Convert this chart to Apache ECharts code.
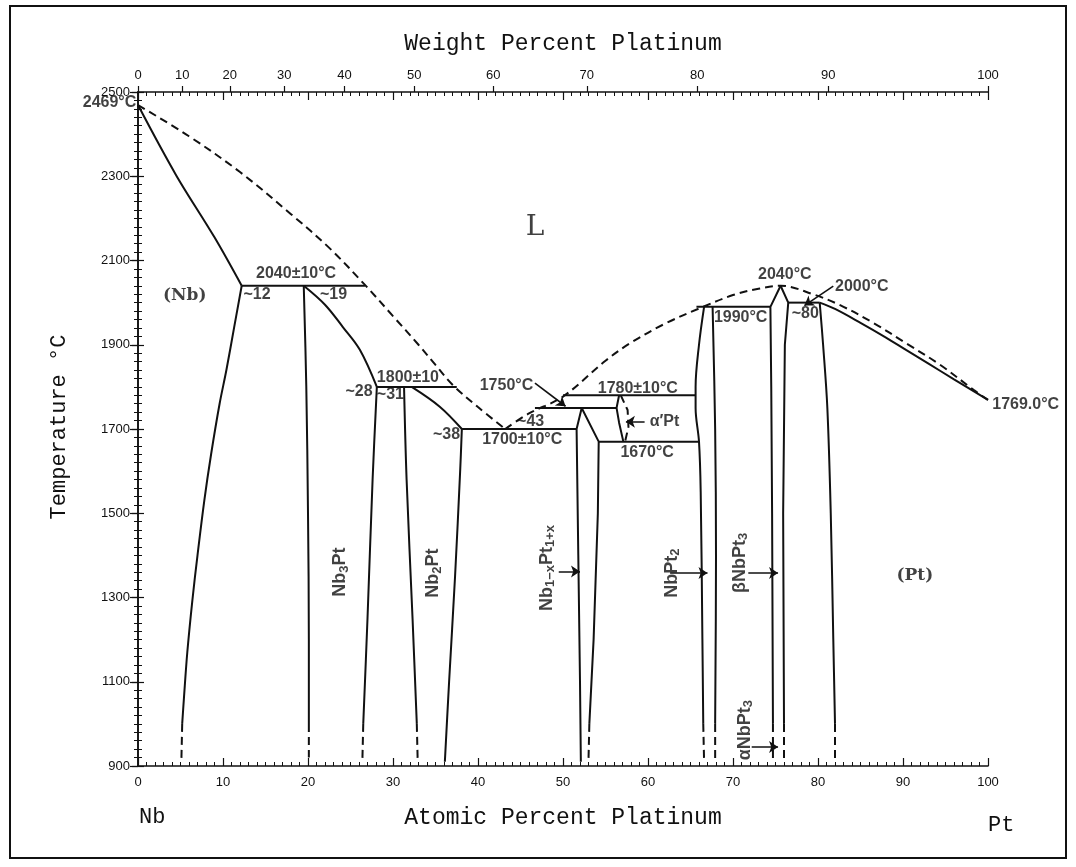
<!DOCTYPE html>
<html>
<head>
<meta charset="utf-8">
<script src="https://cdn.jsdelivr.net/npm/echarts@6/dist/echarts.min.js"></script>
<style>
html,body{margin:0;padding:0;background:#fff;}
#chart{width:1076px;height:867px;}
</style>
</head>
<body>
<div id="chart"></div>
<script>
// ---------- axis tick data ----------
const atomicTicks = [0,10,20,30,40,50,60,70,80,90,100];
const weightTickLabels = ['0','10','20','30','40','50','60','70','80','90','100'];
const weightTickAtomic = [0,5.2,10.8,17.2,24.3,32.5,41.8,52.8,65.8,81.2,100]; // where each wt% sits on the at% scale
const tempTicks = [900,1100,1300,1500,1700,1900,2100,2300,2500];

// ---------- phase boundaries [at% Pt, °C] ----------
const nbSolidus   = [[0,2469],[4.5,2302],[9,2155],[12.2,2040]];
const liquidusLeft = [[0,2469],[6,2395],[12,2310],[18,2210],[22.5,2130],[26.7,2042],[30,1968],[33,1900],[35,1852],[37,1805],[40,1752],[43.2,1700]];
const nbSolvus    = [[12.2,2040],[11.3,1940],[10.4,1840],[9.6,1760],[8.6,1640],[7.8,1530],[7.0,1400],[6.4,1294],[5.8,1170],[5.4,1060],[5.2,1000]];
const nbSolvusLow = [[5.2,1000],[5.1,910]];
const peritectic2040 = [[12.2,2040],[26.7,2040]];
const nb3PtLeft   = [[19.5,2040],[19.8,1800],[20.0,1500],[20.1,1200],[20.1,1000]];
const nb3PtLeftLow = [[20.1,1000],[20.1,920]];
const nb3PtTop    = [[19.5,2040],[22,1995],[24.1,1942],[26.1,1888],[28.1,1800]];
const peritectic1800 = [[28.1,1800],[37.5,1800]];
const nb3PtRight  = [[28.1,1800],[27.6,1580],[27.0,1250],[26.5,1000]];
const nb3PtRightLow = [[26.5,1000],[26.4,915]];
const nb2PtLeft   = [[31.3,1800],[31.6,1580],[32.3,1250],[32.8,1000]];
const nb2PtLeftLow = [[32.8,1000],[32.9,915]];
const nb2PtTop    = [[32.2,1800],[35.5,1753],[38.1,1700]];
const nb2PtRight  = [[38.1,1700],[37.9,1600],[37.3,1350],[36.6,1100],[36.1,910]];
const eutectic1700 = [[38.1,1700],[51.6,1700]];
const liquidusRight = [[43.2,1700],[46,1737],[50,1777],[55,1862],[58,1905],[62,1950],[66,1986],[70,2018],[73,2033],[75.6,2040],[79.4,2020],[82.6,1994],[86.5,1952],[90.4,1903],[94.4,1852],[98.3,1793],[100,1769]];
const line1750 = [[46.7,1750],[56.3,1750]];
const line1780 = [[50,1780],[65.6,1780]];
const nbPtLeft   = [[52.2,1750],[51.6,1700],[51.8,1400],[52.0,1100],[52.1,910]];
const nbPtRight  = [[52.2,1750],[54.2,1670],[54.1,1500],[53.6,1200],[53.1,1000]];
const nbPtRightLow = [[53.1,1000],[53.0,915]];
const line1670 = [[54.2,1670],[66.0,1670]];
const alphaPtSolid  = [[56.6,1780],[56.3,1750],[56.6,1715],[57.1,1670]];
const alphaPtDashed = [[56.8,1780],[57.6,1745],[57.7,1705],[57.3,1670]];
const nbPt2Left  = [[66.6,1990],[66.0,1900],[65.6,1800],[65.6,1750],[66.0,1670],[66.2,1550],[66.4,1200],[66.5,1000]];
const nbPt2LeftLow = [[66.5,1000],[66.6,910]];
const nbPt2Right = [[67.6,1990],[67.9,1700],[68.0,1400],[67.9,1000]];
const nbPt2RightLow = [[67.9,1000],[67.9,910]];
const line1990 = [[65.7,1990],[74.4,1990]];
const nbPt3Left  = [[75.6,2040],[74.4,1990],[74.5,1800],[74.6,1500],[74.7,1000]];
const nbPt3LeftLow = [[74.7,1000],[74.7,910]];
const nbPt3Right = [[75.6,2040],[76.5,2000],[76.1,1900],[75.9,1500],[76.0,1000]];
const nbPt3RightLow = [[76.0,1000],[76.0,910]];
const line2000 = [[76.5,2000],[80.2,2000]];
const ptSolvus   = [[80.2,2000],[80.6,1900],[81.1,1750],[81.5,1500],[81.8,1200],[82.0,1000]];
const ptSolvusLow = [[82.0,1000],[82.0,910]];
const ptSolidus  = [[80.2,2000],[82,1985],[85,1952],[88,1917],[90.4,1887],[93,1855],[96,1818],[100,1769]];

const solidCurves = [nbSolidus,nbSolvus,peritectic2040,nb3PtLeft,nb3PtTop,peritectic1800,nb3PtRight,nb2PtLeft,nb2PtTop,nb2PtRight,eutectic1700,line1750,line1780,nbPtLeft,nbPtRight,line1670,alphaPtSolid,nbPt2Left,nbPt2Right,line1990,nbPt3Left,nbPt3Right,line2000,ptSolvus,ptSolidus];
const dashedCurves = [liquidusLeft,liquidusRight,nbSolvusLow,nb3PtLeftLow,nb3PtRightLow,nb2PtLeftLow,nbPtRightLow,alphaPtDashed,nbPt2LeftLow,nbPt2RightLow,nbPt3LeftLow,nbPt3RightLow,ptSolvusLow];
const smoothCurves = [nbSolidus,liquidusLeft,nbSolvus,nb3PtTop,nb2PtTop,liquidusRight,ptSolidus,nbPt2Left,ptSolvus,nb2PtRight,nb3PtRight,nb2PtLeft,nb3PtLeft,nbPt2Right];

// arrows / leaders [[from],[to]]
const arrows = [
  [[49.5,1362],[52.0,1362]],
  [[62.6,1358],[67.0,1358]],
  [[71.8,1358],[75.3,1358]],
  [[72.2,945],[75.3,945]],
  [[59.6,1717],[57.4,1717]],
  [[46.7,1809],[50.3,1754]],
  [[81.8,2039],[78.4,1993]]
];

// annotations: text, [at%, °C], alignment
const annotations = [
  ['2040±10°C',[18.6,2068],'center'],
  ['~12',[12.4,2018],'left'],
  ['~19',[21.4,2018],'left'],
  ['1800±10',[28.1,1823],'left'],
  ['~28',[27.6,1788],'right'],
  ['~31',[28.1,1781],'left'],
  ['~38',[37.9,1686],'right'],
  ['1700±10°C',[45.2,1674],'center'],
  ['1750°C',[40.2,1804],'left'],
  ['~43',[44.6,1717],'left'],
  ['1780±10°C',[58.8,1797],'center'],
  ['α′Pt',[60.2,1717],'left'],
  ['1670°C',[59.9,1643],'center'],
  ['1990°C',[70.9,1964],'center'],
  ['2040°C',[76.1,2066],'center'],
  ['2000°C',[82.0,2037],'left'],
  ['~80',[78.5,1975],'center'],
  ['2469°C',[-0.2,2474],'right'],
  ['1769.0°C',[100.5,1757],'left']
];
const phaseLabels = [
  ['L',[46.7,2177],0,'serif'],
  ['(Nb)',[5.5,2016],0,'serif'],
  ['(Pt)',[91.4,1351],0,'serif'],
  ['Nb{sub|3}Pt',[23.8,1360],90,'sans'],
  ['Nb{sub|2}Pt',[34.7,1358],90,'sans'],
  ['Nb{sub|1−x}Pt{sub|1+x}',[48.1,1370],90,'sans'],
  ['NbPt{sub|2}',[62.8,1358],90,'sans'],
  ['βNbPt{sub|3}',[70.8,1382],90,'sans'],
  ['αNbPt{sub|3}',[71.4,985],90,'sans']
];

const chart = echarts.init(document.getElementById('chart'), null, {renderer:'canvas'});
const black = '#111';
const tickFont = {fontFamily:'Liberation Sans', fontSize:13, color:black};

function lineSeries(d, dashed){
  return {type:'line', data:d, xAxisIndex:0, yAxisIndex:0, showSymbol:false, symbol:'none',
    silent:true, animation:false, clip:false, smooth: smoothCurves.includes(d) ? 0.35 : false,
    lineStyle:{color:black, width:2, type: dashed ? [8,5] : 'solid'}};
}
const series = [];
solidCurves.forEach(c=>series.push(lineSeries(c,false)));
dashedCurves.forEach(c=>series.push(lineSeries(c,true)));
series.push({type:'lines', coordinateSystem:'cartesian2d', xAxisIndex:0, yAxisIndex:0, silent:true, animation:false,
  symbol:['none','arrow'], symbolSize:[0,9],
  lineStyle:{color:black, width:1.6, opacity:1, curveness:0},
  data: arrows.map(a=>({coords:a}))});
const subRich = {sub:{fontSize:13, fontFamily:'Liberation Sans', fontWeight:'bold', color:black, padding:[8,0,0,0]}};
series.push({type:'scatter', xAxisIndex:0, yAxisIndex:0, symbolSize:0, silent:true, animation:false, clip:false,
  label:{show:true, position:'inside', color:black, fontFamily:'Liberation Sans', fontSize:16, fontWeight:'bold', verticalAlign:'middle'},
  data: annotations.map(a=>({value:a[1], label:{formatter:a[0], align:a[2]}}))});
series.push({type:'scatter', xAxisIndex:0, yAxisIndex:0, symbolSize:0, silent:true, animation:false, clip:false,
  label:{show:true, position:'inside', color:black, verticalAlign:'middle', align:'center', rich:subRich},
  data: phaseLabels.map(a=>{
    const serif = a[3]==='serif';
    const isL = a[0]==='L';
    return {value:a[1], label:{formatter:a[0], rotate:a[2],
      fontFamily: serif ? 'DejaVu Serif' : 'Liberation Sans',
      fontSize: isL ? 28 : (serif ? 17 : 18),
      fontWeight: isL ? 'normal' : 'bold'}};
  })});

function nearestLabel(v){
  let best=0; for(let i=0;i<weightTickAtomic.length;i++){ if(Math.abs(weightTickAtomic[i]-v)<Math.abs(weightTickAtomic[best]-v)) best=i; }
  return weightTickLabels[best];
}

const axisLine = {show:true, lineStyle:{color:black, width:1.6}};
const option = {
  backgroundColor:'#fff',
  animation:false,
  grid:{left:138, right:88, top:92, bottom:101, containLabel:false, outerBoundsMode:'none'},
  xAxis:[
    {type:'value', position:'bottom', min:0, max:100, interval:10,
     axisLine, splitLine:{show:false},
     axisTick:{show:true, inside:true, length:8, lineStyle:{color:black,width:1.2}},
     minorTick:{show:true, splitNumber:10, length:4, lineStyle:{color:black,width:1}},
     axisLabel:{...tickFont, margin:10, customValues:atomicTicks, formatter:v=>String(v)},
     name:'Atomic Percent Platinum', nameLocation:'middle', nameGap:40,
     nameTextStyle:{fontFamily:'Liberation Mono', fontSize:23, color:black}},
    {type:'value', position:'top', min:0, max:100, interval:10,
     axisLine, splitLine:{show:false},
     axisTick:{show:true, inside:true, length:8, lineStyle:{color:black,width:1.2}},
     minorTick:{show:true, splitNumber:10, length:4, lineStyle:{color:black,width:1}},
     axisLabel:{show:false}},
    {type:'value', position:'top', min:0, max:100,
     axisLine:{show:false}, splitLine:{show:false},
     axisTick:{show:true, inside:false, length:6, customValues:weightTickAtomic, lineStyle:{color:black,width:1.2}},
     axisLabel:{...tickFont, margin:10, customValues:weightTickAtomic, formatter:v=>nearestLabel(v)},
     name:'Weight Percent Platinum', nameLocation:'middle', nameGap:37,
     nameTextStyle:{fontFamily:'Liberation Mono', fontSize:23, color:black}}
  ],
  yAxis:[
    {type:'value', position:'left', min:900, max:2500, interval:200,
     axisLine, splitLine:{show:false},
     axisTick:{show:true, inside:false, length:6, lineStyle:{color:black,width:1.2}},
     axisLabel:{...tickFont, margin:8, customValues:tempTicks, formatter:v=>String(v)}},
    {type:'value', position:'right', min:900, max:2500, interval:200,
     axisLine, splitLine:{show:false},
     axisTick:{show:true, inside:true, length:8, lineStyle:{color:black,width:1.2}},
     minorTick:{show:true, splitNumber:10, length:4, lineStyle:{color:black,width:1}},
     axisLabel:{show:false}},
    {type:'value', position:'left', min:900, max:2500, interval:200,
     axisLine:{show:false}, splitLine:{show:false},
     axisTick:{show:true, inside:true, length:6, lineStyle:{color:black,width:1.2}},
     minorTick:{show:true, splitNumber:10, length:4, lineStyle:{color:black,width:1}},
     axisLabel:{show:false}}
  ],
  graphic:[
    {type:'rect', shape:{x:10, y:6, width:1056, height:852}, style:{fill:'none', stroke:black, lineWidth:2}, silent:true},
    {type:'text', x:59, y:427, rotation:Math.PI/2, style:{text:'Temperature °C', fontFamily:'Liberation Mono', fontSize:22, fill:black, align:'center', verticalAlign:'middle'}, silent:true},
    {type:'text', left:139, top:806, style:{text:'Nb', fontFamily:'Liberation Mono', fontSize:22, fill:black}, silent:true},
    {type:'text', left:988, top:814, style:{text:'Pt', fontFamily:'Liberation Mono', fontSize:22, fill:black}, silent:true}
  ],
  series
};
chart.setOption(option);
</script>
</body>
</html>
